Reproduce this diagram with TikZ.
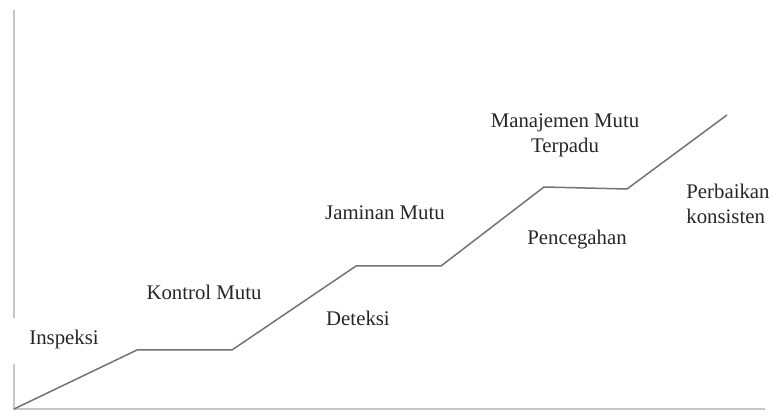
\documentclass[tikz,border=0pt]{standalone}
\usepackage{fontspec}
\setmainfont{Liberation Serif}
\usetikzlibrary{positioning}

\begin{document}
\begin{tikzpicture}[
        x=0.5pt, y=-0.5pt,
        lbl/.style={font=\fontsize{10.4}{12.6}\selectfont, text=black!85, align=center, inner sep=0pt},
        axis/.style={draw=black!22, line width=1pt},
        stair/.style={draw=black!55, line width=0.75pt}
    ]
        \useasboundingbox (0,0) rectangle (773,416);

        % Corners of the steps
        \coordinate (o) at (14,409);
        \coordinate (s1a) at (137,350);
        \coordinate (s1b) at (232,350);
        \coordinate (s2a) at (356,266);
        \coordinate (s2b) at (441,266);
        \coordinate (s3a) at (544,187);
        \coordinate (s3b) at (627,189);
        \coordinate (top) at (727,115);

        % Axes
        \coordinate (ytop) at (14,10);
        \coordinate (ygap1) at (14,318);
        \coordinate (ygap2) at (14,364);
        \coordinate (xend) at (765,409);
        \draw[axis] (ytop) -- (ygap1);
        \draw[axis] (ygap2) -- (o) -- (xend);

        % Steps
        \draw[stair] (o) -- (s1a) -- (s1b) -- (s2a) -- (s2b) -- (s3a) -- (s3b) -- (top);

        % Labels
        \node[lbl] (inspeksi) at (64,340) {Inspeksi};
        \node[lbl] (kontrol) at (204,292) {Kontrol Mutu};
        \node[lbl] (jaminan) at (385,213) {Jaminan Mutu};
        \node[lbl] (deteksi) at (358,318) {Deteksi};
        \node[lbl] (tqm) at (565,135) {Manajemen Mutu\\Terpadu};
        \node[lbl] (cegah) at (577,240) {Pencegahan};
        \node[lbl, align=left] (perbaikan) at (728,204) {Perbaikan\\konsisten};
    \end{tikzpicture}
\end{document}
